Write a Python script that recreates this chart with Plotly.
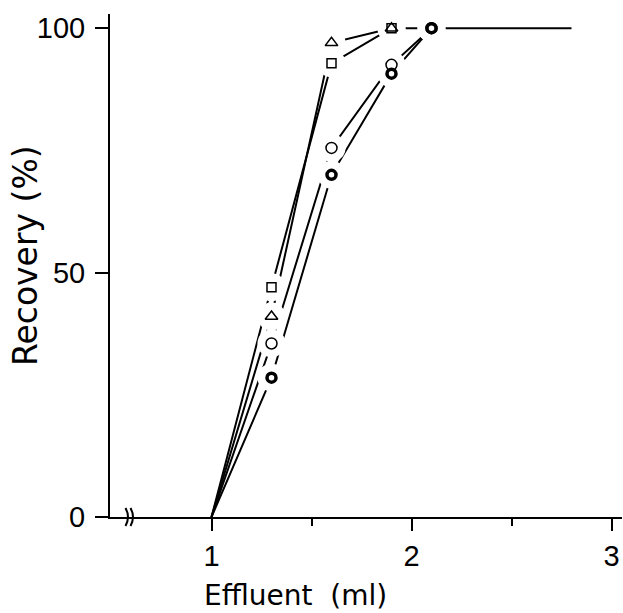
import plotly.graph_objects as go

# Recovery curves (effluent volume in ml vs. recovery in %)
x_tri = [1.0, 1.3, 1.6, 1.9]
y_tri = [0, 41, 97, 100]

x_sq = [1.0, 1.3, 1.6, 1.9]
y_sq = [0, 47, 92.8, 100]

x_open = [1.0, 1.3, 1.6, 1.9, 2.1]
y_open = [0, 35.5, 75.5, 92.5, 100]

x_fill = [1.0, 1.3, 1.6, 1.9, 2.1]
y_fill = [0, 28.5, 70, 90.7, 100]

x_plateau = [1.9, 2.1, 2.8]
y_plateau = [100, 100, 100]

x_ticks = [1, 2, 3]
x_minor = [1.5, 2.5]
y_ticks = [0, 50, 100]

INK = "black"
TICK_FONT = "Liberation Sans"
TITLE_FONT = "DejaVu Sans"

fig = go.Figure()

# connecting lines
for xs, ys in [(x_tri, y_tri), (x_sq, y_sq), (x_open, y_open),
               (x_fill, y_fill), (x_plateau, y_plateau)]:
    fig.add_trace(go.Scatter(x=xs, y=ys, mode="lines",
                             line=dict(color=INK, width=2),
                             hoverinfo="skip", showlegend=False))

# white halos so the lines stop short of each symbol
halo_x = x_tri[1:] + x_sq[1:] + x_open[1:] + x_fill[1:]
halo_y = y_tri[1:] + y_sq[1:] + y_open[1:] + y_fill[1:]
fig.add_trace(go.Scatter(x=halo_x, y=halo_y, mode="markers",
                         marker=dict(symbol="circle", size=28, color="white",
                                     line=dict(width=0)),
                         hoverinfo="skip", showlegend=False))

# symbols
fig.add_trace(go.Scatter(x=x_tri[1:], y=y_tri[1:], mode="markers",
                         marker=dict(symbol="triangle-up-open", size=11,
                                     color=INK, line=dict(color=INK, width=1.5)),
                         showlegend=False))
fig.add_trace(go.Scatter(x=x_sq[1:], y=y_sq[1:], mode="markers",
                         marker=dict(symbol="square-open", size=9,
                                     color=INK, line=dict(color=INK, width=1.5)),
                         showlegend=False))
fig.add_trace(go.Scatter(x=x_open[1:], y=y_open[1:], mode="markers",
                         marker=dict(symbol="circle-open", size=11,
                                     color=INK, line=dict(color=INK, width=1.5)),
                         showlegend=False))
fig.add_trace(go.Scatter(x=x_fill[1:], y=y_fill[1:], mode="markers",
                         marker=dict(symbol="circle-open", size=9,
                                     color=INK, line=dict(color=INK, width=3.5)),
                         showlegend=False))

W, H = 623, 613
L, R, T, B = 110, 1, 14, 96
pw, ph = W - L - R, H - T - B


def px(xp):
    return (xp - L) / pw


def py(yp):
    return (H - B - yp) / ph


# axis break marks on the x axis
shapes = []
for bx in (125.5, 130.5):
    shapes.append(dict(
        type="path", xref="paper", yref="paper",
        path=f"M {px(bx)},{py(508)} Q {px(bx + 5)},{py(517)} {px(bx)},{py(526)}",
        line=dict(color=INK, width=2)))

fig.update_layout(
    width=W, height=H,
    margin=dict(l=L, r=R, t=T, b=B),
    paper_bgcolor="white", plot_bgcolor="white",
    font=dict(family=TICK_FONT, color=INK),
    shapes=shapes,
    xaxis=dict(range=[0.4925, 3.0525], showgrid=False, zeroline=False,
               showline=True, linecolor=INK, linewidth=2,
               tickmode="array", tickvals=x_ticks,
               ticktext=[str(v) for v in x_ticks],
               ticks="outside", ticklen=12, tickwidth=2, tickcolor=INK,
               tickfont=dict(size=29, family=TICK_FONT),
               minor=dict(tickmode="array", tickvals=x_minor, ticks="outside",
                          ticklen=7, tickwidth=2, tickcolor=INK)),
    yaxis=dict(range=[0, 102.9], showgrid=False, zeroline=False,
               showline=True, linecolor=INK, linewidth=2,
               tickmode="array", tickvals=y_ticks,
               ticktext=[str(v) for v in y_ticks],
               ticks="outside", ticklen=13, tickwidth=2, tickcolor=INK,
               tickfont=dict(size=29, family=TICK_FONT), ticklabelstandoff=4),
    annotations=[
        dict(text="Effluent  (ml)", xref="paper", yref="paper",
             x=px(295), y=py(595), xanchor="center", yanchor="middle",
             showarrow=False, font=dict(size=28, family=TITLE_FONT)),
        dict(text="Recovery (%)", xref="paper", yref="paper",
             x=px(25), y=py(256), xanchor="center", yanchor="middle",
             showarrow=False, textangle=-90,
             font=dict(size=33, family=TITLE_FONT)),
    ],
)

fig.write_html("out.html")
